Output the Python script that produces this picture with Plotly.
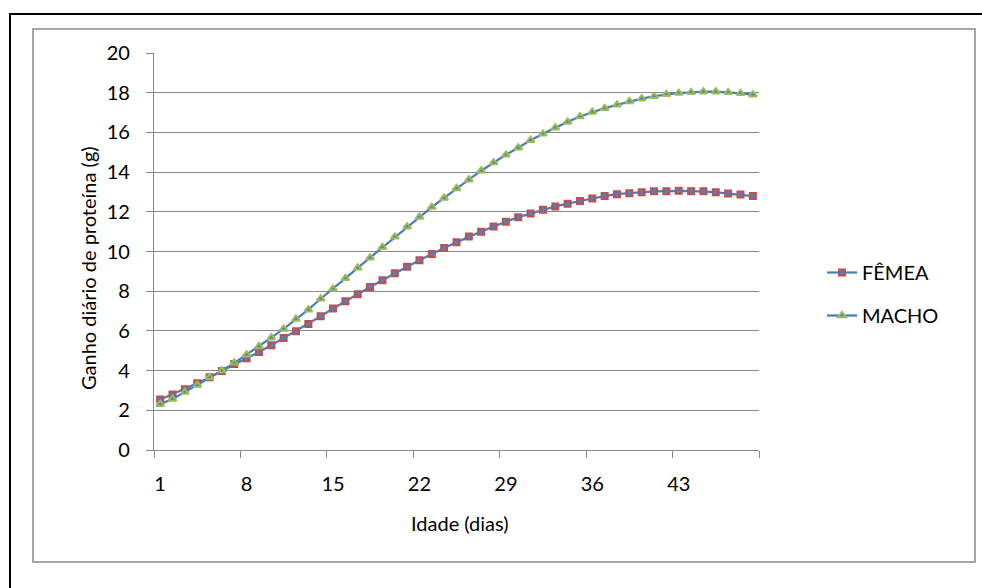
import plotly.graph_objects as go

dias = list(range(1, 50))
femea = [2.54, 2.80, 3.06, 3.36, 3.67, 3.98, 4.33, 4.62, 4.94, 5.28,
         5.64, 5.98, 6.35, 6.74, 7.13, 7.50, 7.85, 8.21, 8.55, 8.91,
         9.23, 9.56, 9.88, 10.18, 10.47, 10.75, 11.00, 11.26, 11.50, 11.73,
         11.91, 12.10, 12.27, 12.41, 12.55, 12.67, 12.79, 12.89, 12.94, 12.99,
         13.03, 13.04, 13.06, 13.04, 13.03, 12.99, 12.92, 12.87, 12.79]
macho = [2.31, 2.57, 2.92, 3.27, 3.66, 4.00, 4.39, 4.80, 5.22, 5.66,
         6.10, 6.60, 7.07, 7.62, 8.12, 8.65, 9.18, 9.69, 10.22, 10.74,
         11.25, 11.74, 12.24, 12.70, 13.18, 13.62, 14.07, 14.48, 14.87, 15.23,
         15.61, 15.93, 16.24, 16.53, 16.80, 17.03, 17.22, 17.39, 17.56, 17.70,
         17.82, 17.92, 17.98, 18.02, 18.05, 18.05, 18.02, 17.97, 17.90]
x_tick_vals = [1, 8, 15, 22, 29, 36, 43]
x_tick_text = ["1", "8", "15", "22", "29", "36", "43"]
y_tick_vals = [0, 2, 4, 6, 8, 10, 12, 14, 16, 18, 20]

FONT = "Lato"
FS = 20
GRID = "#888888"
LINE_BLUE = "#4A7EBB"

fig = go.Figure()
fig.add_trace(go.Scatter(
    x=dias, y=femea, name="FÊMEA", mode="lines+markers", legendgroup="f",
    line=dict(color=LINE_BLUE, width=2.25),
    marker=dict(symbol="square", size=6, color="#4F81BD",
                line=dict(color="#C0504D", width=2)),
))
fig.add_trace(go.Scatter(
    x=dias, y=macho, name="MACHO", mode="lines+markers", legendgroup="m",
    line=dict(color=LINE_BLUE, width=2.25),
    marker=dict(symbol="triangle-up", size=7, color="#4F81BD",
                line=dict(color="#9BBB59", width=2)),
))

L, R, T, B = 154, 223, 53, 138
W, H = 982, 588
PW, PH = W - L - R, H - T - B


def px(xp):
    return (xp - L) / PW


def py(yp):
    return (H - B - yp) / PH


fig.update_layout(
    width=W, height=H,
    margin=dict(l=L, r=R, t=T, b=B),
    paper_bgcolor="white", plot_bgcolor="white",
    font=dict(family=FONT, size=FS, color="black"),
    showlegend=True,
    legend=dict(x=px(822), y=py(294), xanchor="left", yanchor="middle",
                font=dict(family=FONT, size=FS, color="black"),
                tracegroupgap=14, bgcolor="rgba(0,0,0,0)"),
    xaxis=dict(
        range=[0.5, 49.5], tickmode="array", tickvals=x_tick_vals,
        ticktext=x_tick_text, ticks="", showgrid=False, zeroline=False,
        showline=True, linecolor=GRID, linewidth=1.3,
        ticklabelstandoff=16,
        tickfont=dict(family=FONT, size=FS, color="black"),
        minor=dict(tickmode="linear", tick0=0.5, dtick=7, ticks="outside",
                   ticklen=7, tickcolor=GRID, tickwidth=1.3, showgrid=False),
    ),
    yaxis=dict(
        range=[0, 20], tickmode="array", tickvals=y_tick_vals,
        ticks="outside", ticklen=7, tickcolor=GRID, tickwidth=1.3,
        showgrid=True, gridcolor=GRID, gridwidth=1.3, zeroline=False,
        showline=True, linecolor=GRID, linewidth=1.3,
        ticklabelstandoff=12,
        tickfont=dict(family=FONT, size=FS, color="black"),
    ),
    annotations=[
        dict(text="Ganho diário de proteína (g)", textangle=-90,
             x=px(88), y=py(268), xref="paper", yref="paper",
             showarrow=False, xanchor="center", yanchor="middle",
             font=dict(family=FONT, size=FS, color="black")),
        dict(text="Idade (dias)", x=px(460), y=py(523),
             xref="paper", yref="paper", showarrow=False,
             xanchor="center", yanchor="middle",
             font=dict(family=FONT, size=FS, color="black")),
    ],
    shapes=[
        dict(type="rect", xref="paper", yref="paper", layer="below",
             x0=px(10), y0=py(14), x1=px(1000), y1=py(610),
             line=dict(color="black", width=2), fillcolor="rgba(0,0,0,0)"),
        dict(type="rect", xref="paper", yref="paper", layer="below",
             x0=px(33), y0=py(29), x1=px(975), y1=py(562),
             line=dict(color="#8a8a8a", width=1.5), fillcolor="rgba(0,0,0,0)"),
    ],
)

fig.write_html(
    "out.html",
    config={"displayModeBar": False},
    post_script="document.body.style.margin='0';document.body.style.overflow='hidden';",
)
